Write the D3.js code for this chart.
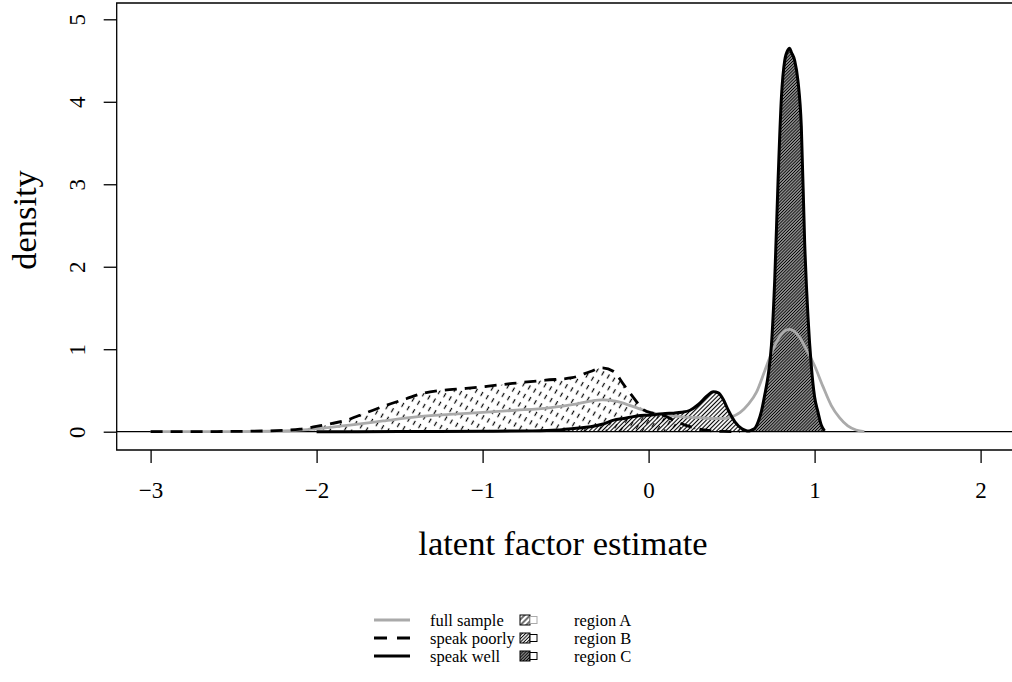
<!DOCTYPE html>
<html>
<head>
<meta charset="utf-8">
<script src="https://cdn.jsdelivr.net/npm/d3@7"></script>
<style>
  body { margin: 0; background: #fff; }
  svg { display: block; }
  text { font-family: "Liberation Serif", "Times New Roman", serif; fill: #000; }
</style>
</head>
<body>
<svg id="chart" width="1012" height="682"></svg>
<script>
// Density estimates of the latent factor
const fullSampleX = [-3.0, -2.5, -2.2, -2.0, -1.8, -1.6, -1.4, -1.2, -1.0, -0.8, -0.6, -0.45, -0.35, -0.28, -0.2, -0.1, 0.0, 0.1, 0.2, 0.3, 0.4, 0.45, 0.5, 0.55, 0.6, 0.65, 0.7, 0.75, 0.8, 0.85, 0.9, 0.95, 1.0, 1.05, 1.1, 1.15, 1.2, 1.25, 1.3];
const fullSampleDensity = [0, 0.002, 0.01, 0.035, 0.08, 0.13, 0.18, 0.21, 0.235, 0.26, 0.29, 0.33, 0.37, 0.385, 0.37, 0.31, 0.24, 0.2, 0.18, 0.17, 0.16, 0.16, 0.18, 0.23, 0.33, 0.48, 0.74, 1.0, 1.18, 1.24, 1.17, 1.0, 0.8, 0.55, 0.32, 0.17, 0.07, 0.02, 0];

const speakPoorlyX = [-3.0, -2.6, -2.3, -2.1, -1.96, -1.82, -1.7, -1.58, -1.46, -1.36, -1.25, -1.1, -1.0, -0.82, -0.62, -0.46, -0.35, -0.28, -0.21, -0.15, -0.09, -0.03, 0.03, 0.1, 0.15, 0.22, 0.29, 0.36, 0.45, 0.55];
const speakPoorlyDensity = [0, 0.002, 0.01, 0.03, 0.08, 0.14, 0.23, 0.32, 0.4, 0.465, 0.5, 0.525, 0.545, 0.585, 0.625, 0.655, 0.73, 0.775, 0.73, 0.57, 0.41, 0.265, 0.22, 0.19, 0.14, 0.08, 0.04, 0.015, 0.003, 0];

const speakWellX = [-2.0, -1.5, -1.0, -0.7, -0.55, -0.45, -0.35, -0.28, -0.21, -0.15, -0.1, -0.05, 0.0, 0.05, 0.1, 0.15, 0.2, 0.25, 0.3, 0.35, 0.39, 0.42, 0.45, 0.48, 0.52, 0.56, 0.58, 0.6, 0.62, 0.64, 0.66, 0.68, 0.7, 0.72, 0.74, 0.76, 0.78, 0.8, 0.82, 0.84, 0.85, 0.86, 0.88, 0.9, 0.92, 0.94, 0.96, 0.98, 1.0, 1.02, 1.04, 1.06];
const speakWellDensity = [0, 0.002, 0.005, 0.01, 0.02, 0.04, 0.06, 0.09, 0.14, 0.16, 0.18, 0.195, 0.2, 0.21, 0.22, 0.225, 0.235, 0.26, 0.33, 0.43, 0.485, 0.47, 0.39, 0.26, 0.12, 0.04, 0.02, 0.008, 0.02, 0.04, 0.12, 0.25, 0.45, 0.68, 1.05, 1.85, 3.05, 4.05, 4.5, 4.63, 4.65, 4.6, 4.5, 4.25, 3.7, 2.3, 1.4, 0.8, 0.42, 0.24, 0.08, 0.01];

// boundary between region B and region C on the latent scale
const regionSplit = 0.6;

const xTicks = [-3, -2, -1, 0, 1, 2];
const yTicks = [0, 1, 2, 3, 4, 5];

const seriesLabels = ["full sample", "speak poorly", "speak well"];
const regionLabels = ["region A", "region B", "region C"];

const svg = d3.select("#chart");

const plot = { left: 116.7, top: 3, right: 1014, bottom: 450 };
const x = d3.scaleLinear().domain([-3, 2]).range([150.6, 980.6]);
const y = d3.scaleLinear().domain([0, 5]).range([431.7, 19.3]);

const zip = (xs, ys) => xs.map((v, i) => [v, ys[i]]);
const full = zip(fullSampleX, fullSampleDensity);
const poorly = zip(speakPoorlyX, speakPoorlyDensity);
const well = zip(speakWellX, speakWellDensity);

// ---- hatch patterns ----
const defs = svg.append("defs");

function hatch(id, opts) {
  const p = defs.append("pattern")
    .attr("id", id)
    .attr("patternUnits", "userSpaceOnUse")
    .attr("width", opts.w)
    .attr("height", opts.h)
    .attr("patternTransform", `rotate(${opts.rot})`);
  if (opts.bg) p.append("rect").attr("width", opts.w).attr("height", opts.h).attr("fill", opts.bg);
  p.append("line")
    .attr("x1", opts.w / 2).attr("x2", opts.w / 2)
    .attr("y1", 0).attr("y2", opts.len)
    .attr("stroke", "#000")
    .attr("stroke-width", opts.sw);
}
hatch("hatchA", { w: 6.3, h: 9.8, len: 4.6, rot: 30, sw: 1.2 });
hatch("hatchB", { w: 3, h: 3, len: 3, rot: 45, sw: 1.1 });
hatch("hatchC", { w: 2.2, h: 2.2, len: 2.2, rot: 45, sw: 0.9, bg: "#9a9a9a" });
hatch("legA", { w: 4, h: 4, len: 4, rot: 45, sw: 1.1 });
hatch("legB", { w: 2.4, h: 2.4, len: 2.4, rot: 45, sw: 1.0 });
hatch("legC", { w: 2.2, h: 2.2, len: 2.2, rot: 45, sw: 0.9, bg: "#8a8a8a" });

defs.append("clipPath").attr("id", "plotClip")
  .append("rect")
  .attr("x", plot.left).attr("y", plot.top)
  .attr("width", plot.right - plot.left).attr("height", plot.bottom - plot.top);

const g = svg.append("g").attr("clip-path", "url(#plotClip)");

const area = d3.area()
  .x(d => x(d[0])).y0(y(0)).y1(d => y(d[1]))
  .curve(d3.curveMonotoneX);
const line = d3.line()
  .x(d => x(d[0])).y(d => y(d[1]))
  .curve(d3.curveMonotoneX);

// shaded regions
g.append("path").datum(poorly).attr("d", area).attr("fill", "url(#hatchA)");
g.append("path").datum(well.filter(d => d[0] <= regionSplit)).attr("d", area).attr("fill", "url(#hatchB)");
g.append("path").datum(well.filter(d => d[0] >= regionSplit)).attr("d", area).attr("fill", "url(#hatchC)");

// zero reference line
g.append("line")
  .attr("x1", plot.left).attr("x2", plot.right)
  .attr("y1", y(0)).attr("y2", y(0))
  .attr("stroke", "#000").attr("stroke-width", 1.3);

// density curves
g.append("path").datum(full).attr("d", line)
  .attr("fill", "none").attr("stroke", "#aaaaaa").attr("stroke-width", 2.8);
g.append("path").datum(poorly).attr("d", line)
  .attr("fill", "none").attr("stroke", "#000").attr("stroke-width", 2.8)
  .attr("stroke-dasharray", "12,8");
g.append("path").datum(well).attr("d", line)
  .attr("fill", "none").attr("stroke", "#000").attr("stroke-width", 3)
  .attr("stroke-linejoin", "round");

// plot frame
svg.append("path")
  .attr("d", `M${plot.right},${plot.top}H${plot.left}V${plot.bottom}H${plot.right}`)
  .attr("fill", "none").attr("stroke", "#000").attr("stroke-width", 1.3);

// axes
const fmt = d => (d < 0 ? "\u2212" + Math.abs(d) : String(d));

const xAxis = svg.append("g")
  .attr("transform", `translate(0,${plot.bottom})`)
  .call(d3.axisBottom(x).tickValues(xTicks).tickSize(13).tickPadding(19).tickFormat(fmt));
xAxis.select(".domain").remove();
xAxis.selectAll("line").attr("stroke", "#000").attr("stroke-width", 1.3);
xAxis.selectAll("text").style("font-size", "23px").style("font-family", "Liberation Serif, serif").attr("fill", "#000");

const yAxis = svg.append("g")
  .attr("transform", `translate(${plot.left},0)`)
  .call(d3.axisLeft(y).tickValues(yTicks).tickSize(13).tickFormat(fmt));
yAxis.select(".domain").remove();
yAxis.selectAll("line").attr("stroke", "#000").attr("stroke-width", 1.3);
yAxis.selectAll("text")
  .attr("x", null).attr("dy", null).attr("y", 0)
  .attr("text-anchor", "middle")
  .attr("transform", "translate(-31.5,0) rotate(-90)")
  .style("font-size", "23px").style("font-family", "Liberation Serif, serif").attr("fill", "#000");

// axis titles
svg.append("text")
  .attr("x", 563).attr("y", 555)
  .attr("text-anchor", "middle")
  .style("font-size", "34.5px")
  .text("latent factor estimate");
svg.append("text")
  .attr("transform", "translate(36,220) rotate(-90)")
  .attr("text-anchor", "middle")
  .style("font-size", "34.5px")
  .text("density");

// legend
const legY = [620, 638, 656];
const leg = svg.append("g");
const legStyles = [
  { stroke: "#aaaaaa", dash: null },
  { stroke: "#000", dash: "13,10" },
  { stroke: "#000", dash: null }
];
seriesLabels.forEach((lab, i) => {
  leg.append("line")
    .attr("x1", 374).attr("x2", 410)
    .attr("y1", legY[i]).attr("y2", legY[i])
    .attr("stroke", legStyles[i].stroke).attr("stroke-width", 2.8)
    .attr("stroke-dasharray", legStyles[i].dash);
  leg.append("text")
    .attr("x", 430).attr("y", legY[i] + 5.5)
    .style("font-size", "16.5px")
    .text(lab);
});
const swatchFill = ["url(#legA)", "url(#legB)", "url(#legC)"];
const smallStroke = ["#aaaaaa", "#000", "#000"];
regionLabels.forEach((lab, i) => {
  leg.append("rect")
    .attr("x", 520).attr("y", legY[i] - 5)
    .attr("width", 10).attr("height", 10)
    .attr("fill", swatchFill[i]).attr("stroke", "#000").attr("stroke-width", 1);
  leg.append("rect")
    .attr("x", 530).attr("y", legY[i] - 3.5)
    .attr("width", 7).attr("height", 7)
    .attr("fill", "#fff").attr("stroke", smallStroke[i]).attr("stroke-width", 1);
  leg.append("text")
    .attr("x", 574).attr("y", legY[i] + 5.5)
    .style("font-size", "16.5px")
    .text(lab);
});
</script>
</body>
</html>
